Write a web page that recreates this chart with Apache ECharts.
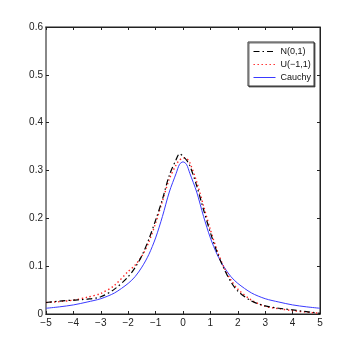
<!DOCTYPE html>
<html>
<head>
<meta charset="utf-8">
<script src="https://cdn.jsdelivr.net/npm/echarts@6/dist/echarts.min.js"></script>
<style>
  html, body { margin: 0; padding: 0; background: #fff; }
  #chart { width: 354px; height: 354px; }
</style>
</head>
<body>
<div id="chart"></div>
<script>
// sample positions along x (shared by all three curves)
const xs = [-5, -4.5, -4, -3.5, -3, -2.5, -2, -1.75, -1.5, -1.25, -1, -0.75, -0.5, -0.25, -0.125,
  0, 0.125, 0.25, 0.5, 0.75, 1, 1.25, 1.5, 1.75, 2, 2.5, 3, 3.5, 4, 4.5, 5]

// density estimates
const normalVals = [0.024, 0.027, 0.029, 0.031, 0.036, 0.052, 0.078, 0.097, 0.122, 0.156, 0.196, 0.240, 0.290, 0.323, 0.335,
  0.330, 0.322, 0.310, 0.268, 0.218, 0.170, 0.128, 0.094, 0.067, 0.048, 0.027, 0.017, 0.012, 0.0085, 0.005, 0.0015]
const uniformVals = [0.024, 0.026, 0.029, 0.035, 0.043, 0.060, 0.089, 0.102, 0.121, 0.150, 0.190, 0.236, 0.282, 0.312, 0.322,
  0.326, 0.325, 0.316, 0.276, 0.226, 0.176, 0.132, 0.097, 0.071, 0.052, 0.029, 0.016, 0.011, 0.007, 0.004, 0.0015]
const cauchyVals = [0.012, 0.015, 0.019, 0.025, 0.032, 0.044, 0.064, 0.078, 0.098, 0.124, 0.159, 0.204, 0.255, 0.294, 0.313,
  0.318, 0.313, 0.294, 0.255, 0.204, 0.159, 0.124, 0.098, 0.078, 0.064, 0.044, 0.032, 0.025, 0.019, 0.015, 0.012]

const seriesNames = ['N(0,1)', 'U(\u22121,1)', 'Cauchy']

const pairs = vals => xs.map((x, i) => [x, vals[i]])
const fontFamily = '"Liberation Sans", Arial, sans-serif'

const chart = echarts.init(document.getElementById('chart'), null, { renderer: 'canvas' })

const tickStyle = { show: true, inside: true, length: 3, lineStyle: { color: '#222', width: 1 } }

chart.setOption({
  animation: false,
  backgroundColor: '#fff',
  grid: {
    left: 46,
    right: 34,
    top: 27,
    bottom: 40,
    show: true,
    borderColor: '#222',
    borderWidth: 1
  },
  legend: {
    orient: 'vertical',
    left: 248,
    top: 42,
    padding: [5, 3, 4, 5],
    itemWidth: 22,
    itemHeight: 9.5,
    itemGap: 4,
    backgroundColor: '#fff',
    borderColor: '#333',
    borderWidth: 1,
    shadowColor: 'rgba(0,0,0,0.55)',
    shadowBlur: 0,
    shadowOffsetX: 1,
    shadowOffsetY: 1,
    itemStyle: { opacity: 0 },
    lineStyle: { width: 1 },
    textStyle: { fontFamily: fontFamily, fontSize: 9, color: '#111' },
    data: seriesNames
  },
  xAxis: [{
    type: 'value',
    position: 'bottom',
    min: -5,
    max: 5,
    interval: 1,
    axisLine: { show: true, onZero: false, lineStyle: { color: '#222', width: 1 } },
    axisTick: tickStyle,
    splitLine: { show: false },
    axisLabel: {
      margin: 4,
      fontFamily: fontFamily,
      fontSize: 10,
      color: '#222',
      formatter: v => String(v).replace('-', '\u2212')
    }
  }, {
    type: 'value',
    position: 'top',
    min: -5,
    max: 5,
    interval: 1,
    axisLine: { show: true, onZero: false, lineStyle: { color: '#222', width: 1 } },
    axisTick: tickStyle,
    splitLine: { show: false },
    axisLabel: { show: false }
  }],
  yAxis: [{
    type: 'value',
    position: 'left',
    min: 0,
    max: 0.6,
    interval: 0.1,
    axisLine: { show: true, onZero: false, lineStyle: { color: '#888', width: 2 } },
    axisTick: tickStyle,
    splitLine: { show: false },
    axisLabel: {
      margin: 3,
      fontFamily: fontFamily,
      fontSize: 10,
      color: '#222',
      formatter: v => (v === 0 ? '0' : v.toFixed(1))
    }
  }, {
    type: 'value',
    position: 'right',
    min: 0,
    max: 0.6,
    interval: 0.1,
    axisLine: { show: true, onZero: false, lineStyle: { color: '#222', width: 1 } },
    axisTick: tickStyle,
    splitLine: { show: false },
    axisLabel: { show: false }
  }],
  series: [{
    name: seriesNames[0],
    type: 'line',
    smooth: 0.3,
    symbol: 'none',
    data: pairs(normalVals),
    lineStyle: { color: '#000', width: 1.2, type: [6, 3, 1.5, 3] },
    itemStyle: { color: '#000' },
    z: 3
  }, {
    name: seriesNames[1],
    type: 'line',
    smooth: 0.3,
    symbol: 'none',
    data: pairs(uniformVals),
    lineStyle: { color: '#ff2020', width: 1.4, type: [1.4, 2.6] },
    itemStyle: { color: '#ff2020' },
    z: 2
  }, {
    name: seriesNames[2],
    type: 'line',
    smooth: 0.3,
    symbol: 'none',
    data: pairs(cauchyVals),
    lineStyle: { color: '#3a3aff', width: 1 },
    itemStyle: { color: '#3a3aff' },
    z: 1
  }]
})
</script>
</body>
</html>
